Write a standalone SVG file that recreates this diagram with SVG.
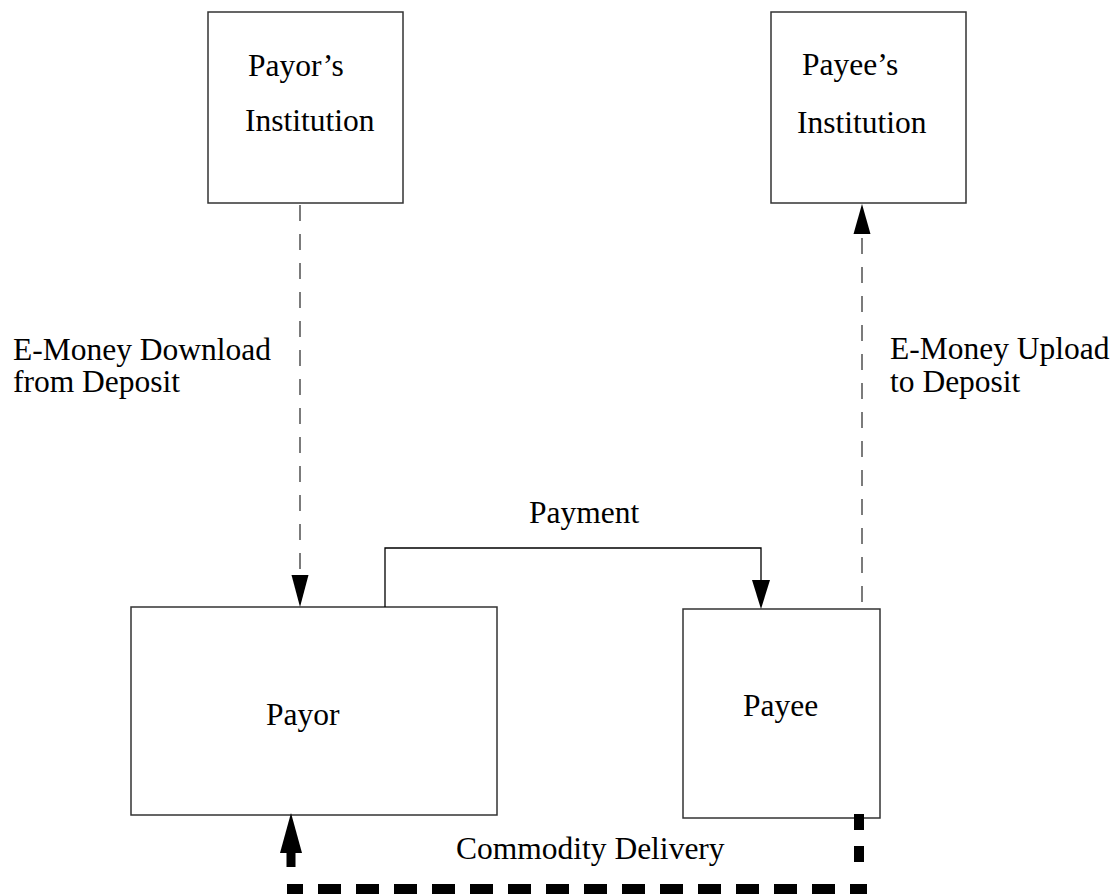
<svg xmlns="http://www.w3.org/2000/svg" width="1119" height="896" viewBox="0 0 1119 896">
  <defs>
    <style>
      .box { fill: #ffffff; stroke: #333333; stroke-width: 1.5; }
      .lbl { font-family: "Liberation Serif", "Times New Roman", serif; font-size: 31.5px; fill: #000000; }
      .flow { fill: none; stroke: #444444; stroke-width: 1.4; stroke-dasharray: 16 13; }
      .solid { fill: none; stroke: #000000; stroke-width: 1.3; }
      .head { fill: #000000; stroke: none; }
      .goods { fill: none; stroke: #000000; stroke-width: 10; }
    </style>
  </defs>
  <rect x="0" y="0" width="1119" height="896" fill="#ffffff"/>

  <!-- institutions -->
  <g id="payor-institution">
    <rect class="box" x="208" y="12" width="195" height="191"/>
    <text class="lbl" x="248" y="76">Payor’s</text>
    <text class="lbl" x="245" y="131">Institution</text>
  </g>
  <g id="payee-institution">
    <rect class="box" x="771" y="12" width="195" height="191"/>
    <text class="lbl" x="802" y="75">Payee’s</text>
    <text class="lbl" x="797" y="133">Institution</text>
  </g>

  <!-- parties -->
  <g id="payor">
    <rect class="box" x="131" y="607" width="366" height="208"/>
    <text class="lbl" x="266" y="725">Payor</text>
  </g>
  <g id="payee">
    <rect class="box" x="683" y="609" width="197" height="209"/>
    <text class="lbl" x="743" y="716">Payee</text>
  </g>

  <!-- flows between nodes -->
  <g id="connectors">
    <!-- download from payor's institution -->
    <line class="flow" x1="300" y1="205" x2="300" y2="576"/>
    <polygon class="head" points="291.5,575 308.5,575 300,607"/>
    <text class="lbl" x="13" y="360">E-Money Download</text>
    <text class="lbl" x="13" y="392">from Deposit</text>

    <!-- upload to payee's institution -->
    <line class="flow" x1="862" y1="602" x2="862" y2="233"/>
    <polygon class="head" points="853.5,234 870.5,234 862,204"/>
    <text class="lbl" x="890" y="359">E-Money Upload</text>
    <text class="lbl" x="890" y="392">to Deposit</text>

    <!-- payment -->
    <polyline class="solid" points="385,607 385,548 761,548 761,581"/>
    <polygon class="head" points="752,580 770,580 761,609"/>
    <text class="lbl" x="529" y="523">Payment</text>

    <!-- commodity delivery -->
    <line class="goods" x1="859" y1="814" x2="859" y2="862" stroke-dasharray="16 16"/>
    <line class="goods" x1="287" y1="889" x2="867" y2="889" stroke-dasharray="23 15" stroke-dashoffset="7"/>
    <rect class="head" x="286.5" y="852" width="9" height="15"/>
    <polygon class="head" points="280,853 302,853 291,813"/>
    <text class="lbl" x="456" y="859">Commodity Delivery</text>
  </g>
</svg>
